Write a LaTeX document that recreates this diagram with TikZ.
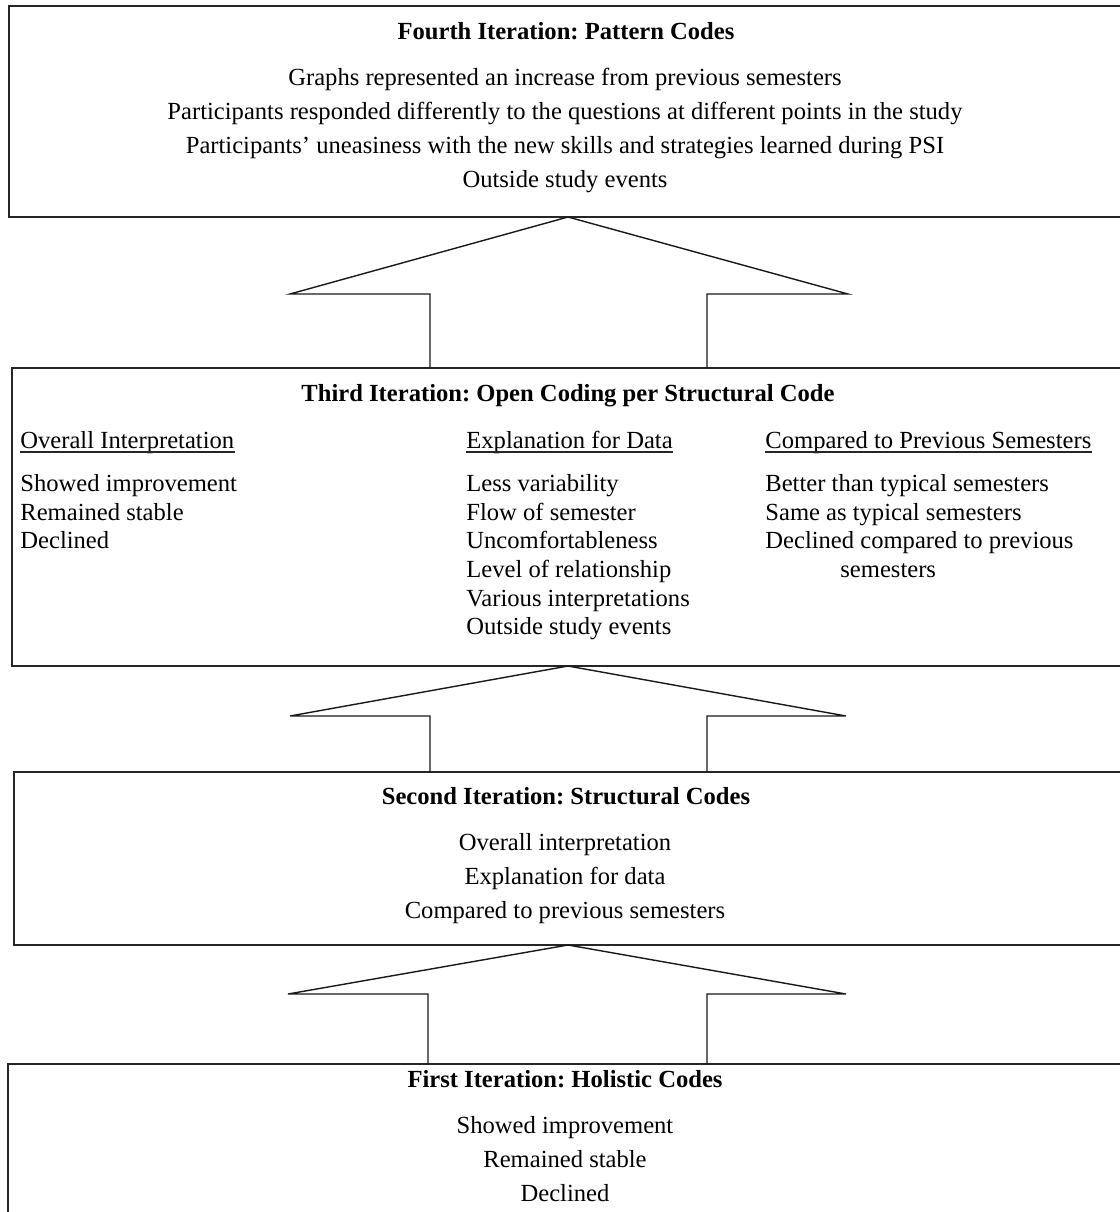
\documentclass[tikz,border=0pt]{standalone}
\usepackage{fontspec}
\setmainfont{Liberation Serif}
\frenchspacing
\begin{document}
\begin{tikzpicture}[x=0.5pt,y=-0.5pt,
  box/.style={draw=black!85, line width=0.9pt, rectangle, inner sep=0pt, outer sep=0pt, anchor=north west},
  txt/.style={anchor=base, inner sep=0pt, font=\fontsize{12.3}{14}\selectfont},
  ttl/.style={anchor=base, inner sep=0pt, font=\fontsize{12.3}{14}\selectfont\bfseries},
  ltxt/.style={anchor=base west, inner sep=0pt, font=\fontsize{12.3}{14}\selectfont},
  uline/.style={draw=black!85, line width=0.6pt},
  arrowline/.style={draw=black!90, line width=0.7pt, line join=miter}]
\useasboundingbox (0,0) rectangle (1120,1212);
\clip (0,0) rectangle (1120,1212);
\fill[white] (0,0) rectangle (1120,1212);
% boxes
\node[box, minimum width=563pt, minimum height=105.5pt] (b4) at (9,6) {};
\node[box, minimum width=561.5pt, minimum height=149pt] (b3) at (12,368) {};
\node[box, minimum width=560.5pt, minimum height=86.5pt] (b2) at (14,772) {};
\node[box, minimum width=563.5pt, minimum height=90pt] (b1) at (8,1064) {};
% box 4 text
\node[ttl] (t4) at (566,39) {Fourth Iteration: Pattern Codes};
\node[txt] (t4a) at (565,85) {Graphs represented an increase from previous semesters};
\node[txt] (t4b) at (565,119) {Participants responded differently to the questions at different points in the study};
\node[txt] (t4c) at (565,153) {Participants’ uneasiness with the new skills and strategies learned during PSI};
\node[txt] (t4d) at (565,187) {Outside study events};
% box 3 text
\node[ttl] (t3) at (568,401) {Third Iteration: Open Coding per Structural Code};
\node[ltxt] (h1) at (20,448) {Overall Interpretation};
\node[ltxt] (h2) at (466,448) {Explanation for Data};
\node[ltxt] (h3) at (765,448) {Compared to Previous Semesters};
\draw[uline] ([yshift=-2pt]h1.base west) -- ([yshift=-2pt]h1.base east);
\draw[uline] ([yshift=-2pt]h2.base west) -- ([yshift=-2pt]h2.base east);
\draw[uline] ([yshift=-2pt]h3.base west) -- ([yshift=-2pt]h3.base east);
\node[ltxt] (c1a) at (20,491) {Showed improvement};
\node[ltxt] (c1b) at (20,520) {Remained stable};
\node[ltxt] (c1c) at (20,548) {Declined};
\node[ltxt] (c2a) at (466,491) {Less variability};
\node[ltxt] (c2b) at (466,520) {Flow of semester};
\node[ltxt] (c2c) at (466,548) {Uncomfortableness};
\node[ltxt] (c2d) at (466,577) {Level of relationship};
\node[ltxt] (c2e) at (466,606) {Various interpretations};
\node[ltxt] (c2f) at (466,634) {Outside study events};
\node[ltxt] (c3a) at (765,491) {Better than typical semesters};
\node[ltxt] (c3b) at (765,520) {Same as typical semesters};
\node[ltxt] (c3c) at (765,548) {Declined compared to previous};
\node[ltxt] (c3d) at (840,577) {semesters};
% box 2 text
\node[ttl] (t2) at (566,804) {Second Iteration: Structural Codes};
\node[txt] (t2a) at (565,850) {Overall interpretation};
\node[txt] (t2b) at (565,884) {Explanation for data};
\node[txt] (t2c) at (565,918) {Compared to previous semesters};
% box 1 text
\node[ttl] (t1) at (565,1087) {First Iteration: Holistic Codes};
\node[txt] (t1a) at (565,1133) {Showed improvement};
\node[txt] (t1b) at (565,1167) {Remained stable};
\node[txt] (t1c) at (565,1201) {Declined};
% arrows (open block arrows from lower box to upper box)
\coordinate (a1l) at (b3.north -| 430,0);
\coordinate (a1r) at (b3.north -| 707,0);
\coordinate (a1p) at (b4.south -| 568,0);
\draw[arrowline] (a1l) -- (430,294) -- (290,294) -- (a1p) -- (848,294) -- (707,294) -- (a1r);
\coordinate (a2l) at (b2.north -| 430,0);
\coordinate (a2r) at (b2.north -| 707,0);
\coordinate (a2p) at (b3.south -| 568,0);
\draw[arrowline] (a2l) -- (430,716) -- (290,716) -- (a2p) -- (846,716) -- (707,716) -- (a2r);
\coordinate (a3l) at (b1.north -| 428,0);
\coordinate (a3r) at (b1.north -| 707,0);
\coordinate (a3p) at (b2.south -| 568,0);
\draw[arrowline] (a3l) -- (428,994) -- (288,994) -- (a3p) -- (846,994) -- (707,994) -- (a3r);
\end{tikzpicture}
\end{document}
